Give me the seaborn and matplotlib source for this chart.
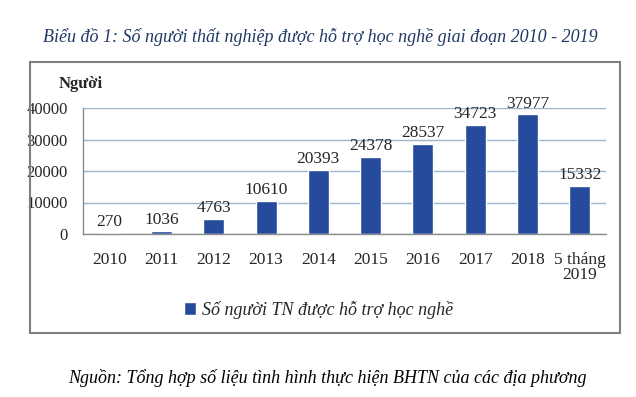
import matplotlib
matplotlib.use("Agg")
import matplotlib.pyplot as plt
import seaborn as sns
import pandas as pd
from matplotlib.patches import Rectangle

# Data
years = ["2010", "2011", "2012", "2013", "2014", "2015", "2016", "2017", "2018", "5 tháng\n2019"]
so_nguoi = [270, 1036, 4763, 10610, 20393, 24378, 28537, 34723, 37977, 15332]
y_ticks = [0, 10000, 20000, 30000, 40000]

series_name = "Số người TN được hỗ trợ học nghề"
title = "Biểu đồ 1: Số người thất nghiệp được hỗ trợ học nghề giai đoạn 2010 - 2019"
source = "Nguồn: Tổng hợp số liệu tình hình thực hiện BHTN của các địa phương"

bar_color = "#264A9C"
grid_color = "#9DB3D1"
axis_color = "#8C8C8C"

sns.set_style("white")
plt.rcParams["font.family"] = ["Liberation Serif", "DejaVu Serif"]

df = pd.DataFrame({"year": years, "value": so_nguoi, "series": series_name})

fig = plt.figure(figsize=(6.36, 3.97), dpi=100)
ax = fig.add_axes([83 / 636, 1 - 234 / 397, (606 - 83) / 636, (234 - 108) / 397])

sns.barplot(data=df, x="year", y="value", hue="series", palette=[bar_color],
            width=0.4, ax=ax, saturation=1, legend=True)

ax.set_ylim(0, 40000)
ax.set_yticks(y_ticks)
ax.set_yticklabels([str(t) for t in y_ticks], fontsize=12)
ax.set_xlabel("")
ax.set_ylabel("")
ax.set_xlim(-0.5, len(years) - 0.5)

# horizontal gridlines
ax.yaxis.grid(True, color=grid_color, linewidth=1)
ax.set_axisbelow(True)

for side in ["top", "right"]:
    ax.spines[side].set_visible(False)
for side in ["left", "bottom"]:
    ax.spines[side].set_color(axis_color)
    ax.spines[side].set_linewidth(1)

# x ticks between categories
ax.set_xticks(range(len(years)))
ax.set_xticklabels(years, fontsize=12.5, linespacing=0.95)
ax.tick_params(axis="x", length=0, pad=13)
ax.set_xticks([i - 0.5 for i in range(len(years) + 1)], minor=True)
ax.tick_params(axis="x", which="minor", length=4, color=axis_color, direction="out")
ax.tick_params(axis="y", length=4, color=axis_color, direction="out", pad=7)

for c in ax.containers:
    ax.bar_label(c, labels=[str(v) for v in so_nguoi], fontsize=12.5, padding=2, clip_on=False)

fig.text(59 / 636, 1 - 84 / 397, "Người", fontsize=12, fontweight="bold", va="center")

# legend below chart
ax.legend(loc="center", bbox_to_anchor=(0.45, -0.6), frameon=False,
          handlelength=0.7, handleheight=0.7, handletextpad=0.3,
          prop={"style": "italic", "size": 13})

# chart frame
fig.patches.append(Rectangle((30 / 636, 1 - 333 / 397), 590 / 636, (333 - 62) / 397,
                             transform=fig.transFigure, fill=False,
                             edgecolor="#7F7F7F", linewidth=1.5))

fig.text(0.503, 1 - 37 / 397, title, ha="center", va="center", fontsize=13,
         style="italic", color="#1F3864")
fig.text(0.514, 1 - 378 / 397, source, ha="center", va="center", fontsize=13,
         style="italic", color="black")

fig.savefig("out.png", dpi=100)
